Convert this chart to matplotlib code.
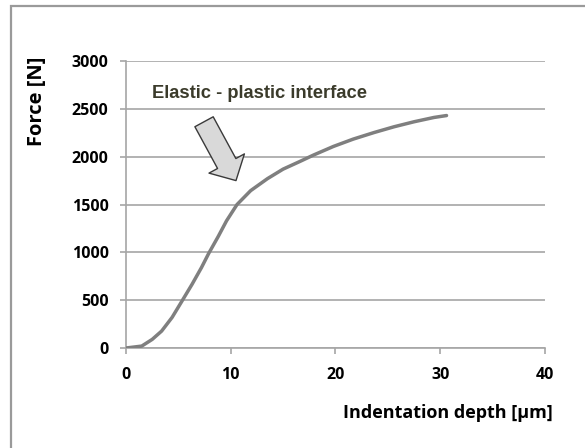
import matplotlib
matplotlib.use("Agg")
import matplotlib.pyplot as plt
from matplotlib.patches import Rectangle

# Force-indentation curve
depth = [0, 1.5, 2.5, 3.4, 4.4, 5.3, 6.3, 7.2, 7.9, 8.8, 9.6, 10.6, 11.9, 13.5,
         15.0, 16.6, 17.9, 19.8, 21.7, 23.7, 25.6, 27.5, 29.4, 30.6]
force = [0, 20, 90, 177, 320, 483, 665, 840, 990, 1165, 1330, 1500, 1645, 1770,
         1870, 1950, 2017, 2107, 2184, 2253, 2313, 2365, 2410, 2430]

x_ticks = [0, 10, 20, 30, 40]
y_ticks = [0, 500, 1000, 1500, 2000, 2500, 3000]

note_text = "Elastic - plastic interface"
note_tail = (7.45, 2365)
note_tip = (10.5, 1750)

label_font = "Open Sans"
grey = "#a6a6a6"

fig = plt.figure(figsize=(5.85, 4.48), dpi=100)
ax = fig.add_axes([0.2154, 0.2232, 0.7162, 0.6406])

# Outer frame (only left and top edges are visible in the source)
fig.patches.append(Rectangle((11 / 585, -0.05), 1.2, 1.05 - 6 / 448,
                             transform=fig.transFigure, fill=False,
                             ec="#9a9a9a", lw=1.6, clip_on=False))

ax.plot(depth, force, color="#7f7f7f", lw=2.5, solid_capstyle="round",
        solid_joinstyle="round", zorder=3)

ax.set_xlim(0, 40)
ax.set_ylim(0, 3000)
ax.set_xticks(x_ticks)
ax.set_yticks(y_ticks)
ax.grid(axis="y", color=grey, lw=1.2)
ax.set_axisbelow(True)

for side in ["top", "right"]:
    ax.spines[side].set_visible(False)
for side in ["left", "bottom"]:
    ax.spines[side].set_color(grey)
    ax.spines[side].set_linewidth(1.2)

ax.tick_params(axis="both", color=grey, width=1.2, length=4.5,
               labelsize=11.5, labelcolor="black")
ax.tick_params(axis="y", pad=8)
ax.tick_params(axis="x", pad=9)
for lab in ax.get_xticklabels() + ax.get_yticklabels():
    lab.set_fontfamily(label_font)
    lab.set_fontweight("bold")

fig.text(37 / 585, 1 - 101 / 448, "Force [N]", rotation=90, ha="center",
         va="center", fontsize=14.5, fontweight="bold", family=label_font)
fig.text(553 / 585, 1 - 413 / 448, "Indentation depth [\u03bcm]", ha="right",
         va="center", fontsize=13, fontweight="bold", family=label_font)

ax.text(152 / 585, 1 - 93 / 448, note_text, transform=fig.transFigure,
        ha="left", va="center", fontsize=13.2, fontweight="bold",
        color="#3b3b2b", family=["Liberation Sans Narrow", "Liberation Sans"])

ax.annotate("", xy=note_tip, xytext=note_tail,
            arrowprops=dict(arrowstyle="simple,head_length=14,head_width=29,tail_width=15",
                            mutation_scale=1, fc="#d9d9d9", ec="#3a3a3a", lw=1.0,
                            shrinkA=0, shrinkB=0),
            zorder=4)

fig.savefig("out.png", dpi=100, facecolor="white")
